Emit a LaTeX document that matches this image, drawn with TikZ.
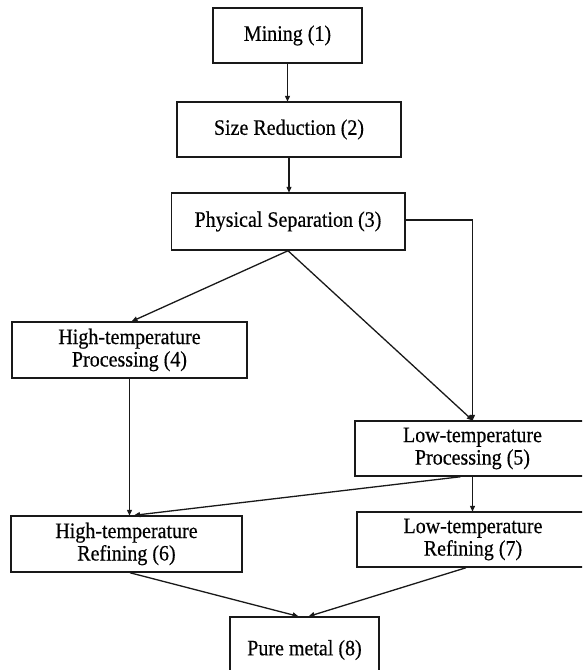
\documentclass[tikz,border=0pt]{standalone}
\usepackage{fontspec}
\setmainfont[FakeStretch=0.91,FakeBold=0.4]{Liberation Serif}
\usetikzlibrary{arrows.meta}
\begin{document}
\begin{tikzpicture}[x=1pt,y=-1pt,
  box/.style={draw=black!90, line width=1.5pt, fill=white, inner sep=0pt,
    align=center, font=\fontsize{22}{22.5}\selectfont},
  flow/.style={draw=black!90, line width=1.3pt,
    -{Triangle[length=6pt,width=5pt]}, shorten >=-0.5pt}]
\useasboundingbox (0,0) rectangle (582,670);
\begin{scope}
\clip (0,0) rectangle (582,670);
% process steps
\node[box, minimum width=149pt, minimum height=55pt] (n1) at (287.5,35.5) {Mining (1)};
\node[box, minimum width=224pt, minimum height=55pt] (n2) at (289,129.5) {Size Reduction (2)};
\node[box, minimum width=233.5pt, minimum height=57pt] (n3) at (288,221.5) {Physical Separation (3)};
\node[box, minimum width=235pt, minimum height=56pt] (n4) at (129.5,350) {High-temperature\\Processing (4)};
\node[box, minimum width=235pt, minimum height=55pt] (n5) at (472.5,448.5) {Low-temperature\\Processing (5)};
\node[box, minimum width=231pt, minimum height=56pt] (n6) at (126.5,544) {High-temperature\\Refining (6)};
\node[box, minimum width=232pt, minimum height=55pt] (n7) at (473,539.5) {Low-temperature\\Refining (7)};
\node[box, minimum width=149pt, minimum height=66pt] (n8) at (304.5,650) {Pure metal (8)};
% connectors
\draw[flow] (n1.south) -- (n1.south |- n2.north);
\draw[flow] (n2.south) -- (n2.south |- n3.north);
\draw[flow] (n3.south) -- ([xshift=2.5pt]n4.north);
\draw[flow] (n3.south) -- (n5.north);
\draw[flow] ([yshift=1.5pt]n3.east) -| (n5.north);
\draw[flow] (n4.south) -- (n4.south |- n6.north);
\draw[flow] ([xshift=-12pt]n5.south) -- ([xshift=8pt]n6.north);
\draw[flow] (n5.south) -- (n5.south |- n7.north);
\draw[flow] ([xshift=3.5pt]n6.south) -- ([xshift=-6.5pt]n8.north);
\draw[flow] ([xshift=-7pt]n7.south) -- ([xshift=4.5pt]n8.north);
\end{scope}
\end{tikzpicture}
\end{document}
